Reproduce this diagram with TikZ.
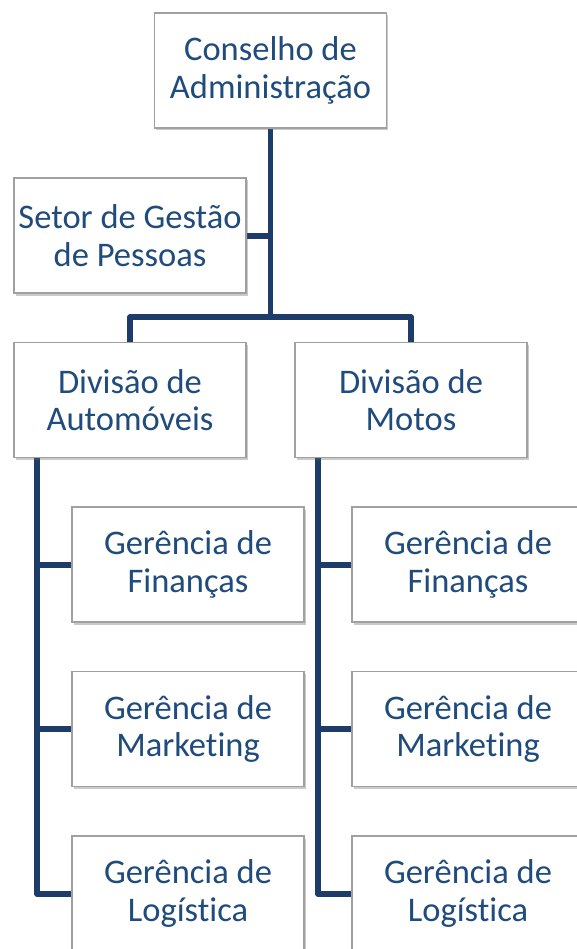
\documentclass[tikz,border=0pt]{standalone}
\usepackage{fontspec}
\setmainfont{Carlito}[Ligatures=NoCommon]
\usetikzlibrary{shadows}
\definecolor{txtblue}{RGB}{31,75,125}
\definecolor{linenavy}{RGB}{30,60,105}
\definecolor{boxgray}{RGB}{160,160,160}
\begin{document}
\begin{tikzpicture}[x=1pt,y=1pt,
  orgbox/.style={rectangle, draw=boxgray, line width=1.2pt, fill=white,
    minimum width=232pt, minimum height=115pt, inner sep=0pt,
    align=center, text=txtblue,
    font=\fontsize{34.5}{37.5}\selectfont,
    drop shadow={shadow xshift=1.5pt, shadow yshift=-2.5pt, opacity=0.35, fill=black!60}},
  conn/.style={draw=linenavy, line width=5.2pt, line join=round, line cap=butt}]
\useasboundingbox (0,0) rectangle (577,-949);
\clip (0,0) rectangle (577,-949);
% coordinates
\coordinate (busL) at (130,-317);
\coordinate (busR) at (411,-317);
\coordinate (busM) at (270.5,-317);
\coordinate (trunkS) at (270.5,-236);
\coordinate (vL) at (37,-458);
\coordinate (vR) at (318,-458);
\coordinate (vL1) at (37,-565);
\coordinate (vL2) at (37,-729);
\coordinate (vL3) at (37,-894);
\coordinate (vR1) at (318,-565);
\coordinate (vR2) at (318,-729);
\coordinate (vR3) at (318,-894);
% connectors (drawn first)
\draw[conn] (270.5,-128) coordinate (topS) -- (busM);
\draw[conn] (busL |- 0,-342) -- (busL) -- (busR) -- (busR |- 0,-342);
\draw[conn] (246,-236) -- (trunkS);
\draw[conn] (vL) -- (vL3) -- (72,-894);
\draw[conn] (vL1) -- (72,-565);
\draw[conn] (vL2) -- (72,-729);
\draw[conn] (vR) -- (vR3) -- (352,-894);
\draw[conn] (vR1) -- (352,-565);
\draw[conn] (vR2) -- (352,-729);
% boxes
\node[orgbox] (conselho) at (270.5,-70.5) {Conselho de\\Administração};
\node[orgbox] (setor) at (130,-235.5) {Setor de Gestão\\de Pessoas};
\node[orgbox] (divA) at (130,-400) {Divisão de\\Automóveis};
\node[orgbox] (divM) at (411,-400) {Divisão de\\Motos};
\node[orgbox] (gA1) at (188,-564.5) {Gerência de\\Finanças};
\node[orgbox] (gA2) at (188,-729) {Gerência de\\Marketing};
\node[orgbox] (gA3) at (188,-893.5) {Gerência de\\Logística};
\node[orgbox] (gM1) at (468,-564.5) {Gerência de\\Finanças};
\node[orgbox] (gM2) at (468,-729) {Gerência de\\Marketing};
\node[orgbox] (gM3) at (468,-893.5) {Gerência de\\Logística};
\end{tikzpicture}
\end{document}
